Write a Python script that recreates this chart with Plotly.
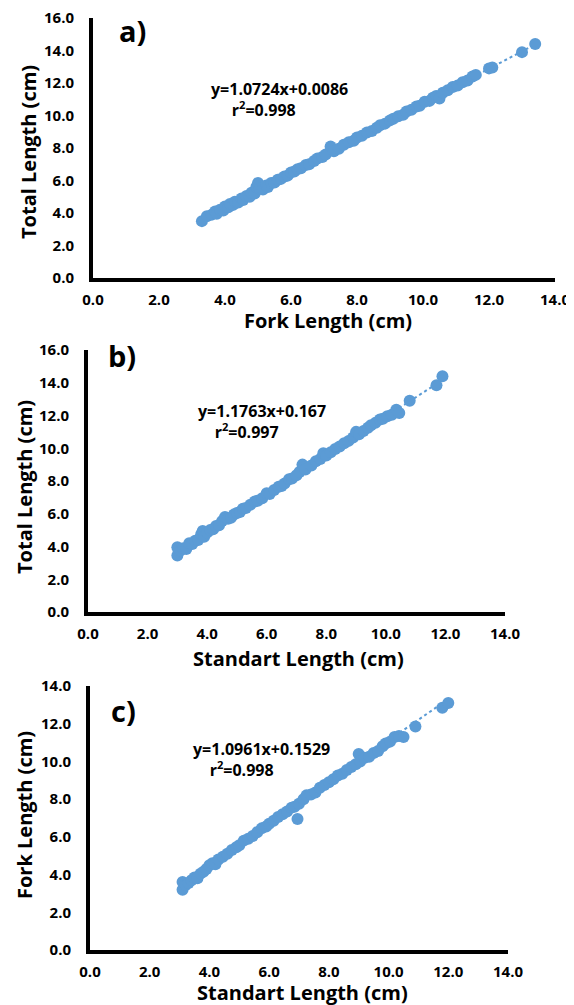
import plotly.graph_objects as go

# ---------------- data ----------------
# Panel a: Fork Length (x) vs Total Length (y)
fl_a = [3.3, 3.45, 3.6, 3.7, 3.75, 3.85, 3.95, 4.0, 4.1, 4.15, 4.25, 4.3, 4.4, 4.5, 4.55, 4.65,
        4.75, 4.8, 4.9, 4.95, 5.0, 5.05, 5.15, 5.25, 5.3, 5.4, 5.5, 5.6, 5.7, 5.8, 5.9, 6.0,
        6.1, 6.2, 6.3, 6.45, 6.55, 6.7, 6.8, 6.95, 7.05, 7.2, 7.3, 7.45, 7.6, 7.75, 7.9, 8.0,
        8.15, 8.3, 8.45, 8.6, 8.7, 8.85, 9.0, 9.1, 9.25, 9.4, 9.5, 9.65, 9.8, 9.9, 10.05, 10.2,
        10.3, 10.4, 10.5, 10.6, 10.75, 10.9, 11.05, 11.2, 11.35, 11.5, 11.6, 12.0, 12.1, 13.0, 13.4]
tl_a = [3.50, 3.80, 3.90, 4.10, 3.95, 4.20, 4.15, 4.40, 4.35, 4.55, 4.50, 4.70, 4.65, 4.90, 4.80, 5.05,
        5.00, 5.25, 5.20, 5.60, 5.85, 5.50, 5.45, 5.70, 5.60, 5.85, 5.88, 6.05, 6.10, 6.25, 6.30, 6.50,
        6.55, 6.70, 6.75, 6.95, 7.00, 7.20, 7.35, 7.45, 7.60, 8.10, 7.80, 7.95, 8.20, 8.35, 8.45, 8.65,
        8.75, 8.95, 9.05, 9.25, 9.40, 9.50, 9.70, 9.80, 9.95, 10.05, 10.25, 10.35, 10.55, 10.60, 10.85, 10.90,
        11.10, 11.20, 11.05, 11.40, 11.55, 11.75, 11.85, 12.05, 12.15, 12.40, 12.50, 12.90, 12.95, 13.90, 14.40]

# Panel b: Standart Length (x) vs Total Length (y)
sl_b = [3.0, 3.0, 3.1, 3.2, 3.3, 3.4, 3.5, 3.6, 3.7, 3.8, 3.85, 3.9, 4.0, 4.1, 4.2, 4.3, 4.4, 4.5,
        4.6, 4.7, 4.8, 4.9, 5.0, 5.1, 5.2, 5.3, 5.45, 5.6, 5.7, 5.85, 6.0, 6.1, 6.25, 6.4, 6.5, 6.6,
        6.75, 6.85, 7.0, 7.1, 7.2, 7.3, 7.5, 7.65, 7.8, 7.9, 8.0, 8.15, 8.3, 8.45, 8.6, 8.75, 8.9, 9.0,
        9.1, 9.25, 9.4, 9.5, 9.65, 9.8, 9.9, 10.05, 10.2, 10.35, 10.45, 10.8, 11.7, 11.9]
tl_b = [3.45, 3.95, 3.75, 3.90, 3.85, 4.20, 4.15, 4.35, 4.40, 4.75, 4.95, 4.60, 4.85, 5.00, 5.05, 5.25, 5.30, 5.55,
        5.80, 5.70, 5.75, 5.95, 6.05, 6.10, 6.30, 6.35, 6.55, 6.75, 6.80, 6.95, 7.25, 7.20, 7.45, 7.65, 7.70, 7.85,
        8.10, 8.15, 8.35, 8.55, 9.00, 8.70, 8.95, 9.20, 9.35, 9.70, 9.55, 9.75, 9.95, 10.10, 10.30, 10.45, 10.65, 11.00,
        10.85, 11.05, 11.25, 11.40, 11.55, 11.75, 11.80, 11.95, 12.05, 12.35, 12.15, 12.90, 13.85, 14.40]

# Panel c: Standart Length (x) vs Fork Length (y)
sl_c = [3.1, 3.1, 3.2, 3.3, 3.4, 3.5, 3.6, 3.7, 3.8, 3.9, 4.0, 4.1, 4.2, 4.3, 4.45, 4.6, 4.75, 4.9,
        5.0, 5.15, 5.3, 5.45, 5.6, 5.75, 5.9, 6.0, 6.15, 6.3, 6.45, 6.6, 6.75, 6.85, 6.95, 7.0, 7.15, 7.25,
        7.4, 7.55, 7.7, 7.85, 8.0, 8.15, 8.3, 8.45, 8.6, 8.75, 8.9, 9.0, 9.05, 9.2, 9.35, 9.5, 9.65, 9.8,
        9.9, 10.05, 10.2, 10.35, 10.5, 10.9, 11.8, 12.0]
fl_c = [3.20, 3.60, 3.45, 3.55, 3.70, 3.85, 3.80, 4.05, 4.15, 4.30, 4.50, 4.60, 4.55, 4.80, 4.95, 5.10, 5.30, 5.45,
        5.55, 5.80, 5.90, 6.05, 6.25, 6.45, 6.55, 6.70, 6.85, 7.05, 7.20, 7.35, 7.55, 7.60, 6.95, 7.75, 8.00, 8.20,
        8.25, 8.35, 8.60, 8.75, 8.90, 9.05, 9.25, 9.35, 9.55, 9.70, 9.85, 10.40, 10.00, 10.20, 10.25, 10.45, 10.55, 10.80,
        10.95, 11.05, 11.30, 11.35, 11.30, 11.85, 12.85, 13.10]

slopes = [1.0724, 1.1763, 1.0961]
intercepts = [0.0086, 0.167, 0.1529]
equations = ["y=1.0724x+0.0086", "y=1.1763x+0.167", "y=1.0961x+0.1529"]
r2_labels = ["r<sup>2</sup>=0.998", "r<sup>2</sup>=0.997", "r<sup>2</sup>=0.998"]
panel_labels = ["a)", "b)", "c)"]
x_titles = ["Fork Length (cm)", "Standart Length (cm)", "Standart Length (cm)"]
y_titles = ["Total Length (cm)", "Total Length (cm)", "Fork Length (cm)"]
x_tick_vals = [0, 2, 4, 6, 8, 10, 12, 14]
y_ranges = [[0, 16], [0, 16], [0, 14]]
y_tick_vals = [[0, 2, 4, 6, 8, 10, 12, 14, 16], [0, 2, 4, 6, 8, 10, 12, 14, 16], [0, 2, 4, 6, 8, 10, 12, 14]]

# ---------------- layout helpers ----------------
# the page body keeps its default 8px margin, so the figure is drawn 8px right/down
OFF = 8
W, H = 574 - OFF, 1005 - OFF
BLUE = "#5B9BD5"
FONT = "Open Sans"
NBSP = "\u00a0"


def px(x):
    return (x - OFF) / W


def py(y):
    return 1 - (y - OFF) / H


# page-pixel boxes: (x0, x1, y_bottom, y_top)
boxes = [(93, 555, 278, 18), (88, 505, 612, 350), (90, 508, 950, 686)]
eq_left = [(209, 99), (196, 421), (191, 759)]   # left edge / vertical centre of the two-line label
r2_indent = [5, 4, 4]
lab_pos = [(117, 30), (106, 355), (109, 710)]
xt_pos = [(328, 321), (298, 658), (302, 992)]
yt_pos = [(28, 152), (24, 487), (24, 815)]

datasets = [(fl_a, tl_a), (sl_b, tl_b), (sl_c, fl_c)]

fig = go.Figure()
annotations = []
layout_axes = {}

for i, ((xs, ys), box) in enumerate(zip(datasets, boxes)):
    n = "" if i == 0 else str(i + 1)
    xa, ya = "x" + n, "y" + n
    xmin, xmax = min(xs), max(xs)
    fig.add_trace(go.Scatter(
        x=[xmin, xmax],
        y=[slopes[i] * xmin + intercepts[i], slopes[i] * xmax + intercepts[i]],
        mode="lines", line=dict(color=BLUE, width=2, dash="dot"),
        xaxis=xa, yaxis=ya, showlegend=False, hoverinfo="skip"))
    fig.add_trace(go.Scatter(
        x=xs, y=ys, mode="markers",
        marker=dict(color=BLUE, size=12, line=dict(width=0)),
        xaxis=xa, yaxis=ya, showlegend=False))

    x0, x1, yb, yt = box
    common = dict(showgrid=False, zeroline=False, showline=True, linecolor="black",
                  linewidth=4, ticks="", tickformat=".1f", automargin=False,
                  ticklabeloverflow="allow",
                  tickfont=dict(family=FONT, size=15, color="black", weight="bold"))
    layout_axes["xaxis" + n] = dict(domain=[px(x0), px(x1)], range=[0, 14], tickvals=x_tick_vals,
                                    anchor=ya, ticklabelstandoff=5, **common)
    layout_axes["yaxis" + n] = dict(domain=[py(yb), py(yt)], range=y_ranges[i], tickvals=y_tick_vals[i],
                                    anchor=xa, ticklabelstandoff=12, **common)

    ex, ey = eq_left[i]
    annotations.append(dict(x=px(ex), y=py(ey), xref="paper", yref="paper",
                            text=equations[i] + "<br>" + NBSP * r2_indent[i] + r2_labels[i],
                            showarrow=False, xanchor="left", yanchor="middle", align="left",
                            font=dict(family=FONT, size=16, color="black", weight="bold")))
    lx, ly = lab_pos[i]
    annotations.append(dict(x=px(lx), y=py(ly), xref="paper", yref="paper", text=panel_labels[i],
                            showarrow=False, xanchor="left", yanchor="middle",
                            font=dict(family=FONT, size=29, color="black", weight="bold")))
    tx, ty = xt_pos[i]
    annotations.append(dict(x=px(tx), y=py(ty), xref="paper", yref="paper", text=x_titles[i],
                            showarrow=False, xanchor="center", yanchor="middle",
                            font=dict(family=FONT, size=20, color="black", weight="bold")))
    vx, vy = yt_pos[i]
    annotations.append(dict(x=px(vx), y=py(vy), xref="paper", yref="paper", text=y_titles[i],
                            showarrow=False, xanchor="center", yanchor="middle", textangle=-90,
                            font=dict(family=FONT, size=20, color="black", weight="bold")))

fig.update_layout(width=W, height=H, margin=dict(l=0, r=0, t=0, b=0),
                  paper_bgcolor="white", plot_bgcolor="white",
                  annotations=annotations, **layout_axes)

fig.write_html("out.html")
